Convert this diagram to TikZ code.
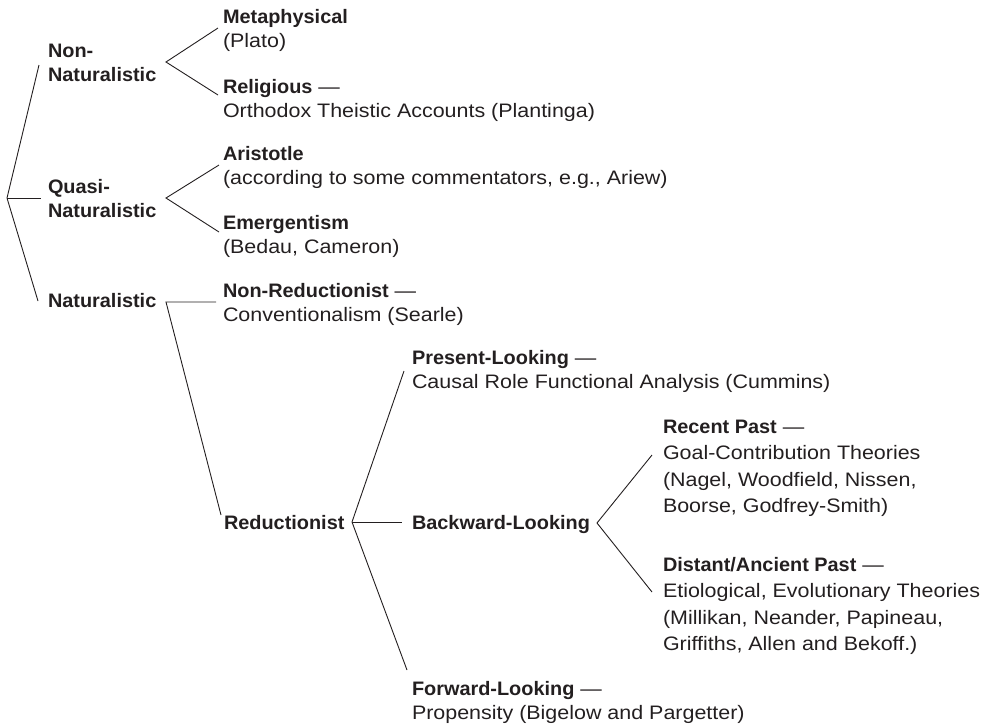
\documentclass[tikz,border=0pt]{standalone}
\usepackage{fontspec}
\newfontfamily\rgfont[FakeStretch=1.1]{Liberation Sans}
\newfontfamily\bdfont[FakeStretch=1.02]{Liberation Sans Bold}
\newcommand{\hd}[1]{{\bdfont #1}}
\definecolor{ink}{HTML}{231F20}
\begin{document}
\begin{tikzpicture}[x=1pt,y=-1pt,
  lbl/.style={inner sep=0pt, outer sep=0pt, anchor=base west, align=left,
    font=\rgfont\fontsize{19.5}{24}\selectfont, text=ink},
  lblwide/.style={lbl, font=\rgfont\fontsize{19.5}{26.5}\selectfont},
  conn/.style={draw=ink, line width=0.9pt}]
\useasboundingbox (0,0) rectangle (985,724);

% labels (anchor = baseline of the last line)
\node[lbl] (nonnat) at (48,81) {\hd{Non-}\\\hd{Naturalistic}};
\node[lbl] (quasi) at (48,217) {\hd{Quasi-}\\\hd{Naturalistic}};
\node[lbl] (nat) at (48,307) {\hd{Naturalistic}};
\node[lbl] (meta) at (223,47) {\hd{Metaphysical}\\(Plato)};
\node[lbl] (relig) at (223,117) {\hd{Religious} —\\Orthodox Theistic Accounts (Plantinga)};
\node[lbl] (arist) at (223,184) {\hd{Aristotle}\\(according to some commentators, e.g., Ariew)};
\node[lbl] (emerg) at (223,253) {\hd{Emergentism}\\(Bedau, Cameron)};
\node[lbl] (nonred) at (223,321) {\hd{Non-Reductionist} —\\Conventionalism (Searle)};
\node[lbl] (red) at (224,529) {\hd{Reductionist}};
\node[lbl] (present) at (412,388) {\hd{Present-Looking} —\\Causal Role Functional Analysis (Cummins)};
\node[lbl] (back) at (412,529) {\hd{Backward-Looking}};
\node[lbl] (forward) at (412,719) {\hd{Forward-Looking} —\\Propensity (Bigelow and Pargetter)};
\node[lblwide] (recent) at (663,512.5) {\hd{Recent Past} —\\Goal-Contribution Theories\\(Nagel, Woodfield, Nissen,\\Boorse, Godfrey-Smith)};
\node[lblwide] (distant) at (663,650.5) {\hd{Distant/Ancient Past} —\\Etiological, Evolutionary Theories\\(Millikan, Neander, Papineau,\\Griffiths, Allen and Bekoff.)};

% connector points
\coordinate (rv) at (7,198);
\coordinate (rA) at (39,65);
\coordinate (rB) at (41,198);
\coordinate (rC) at (38,301);
\coordinate (nnv) at (166,62);
\coordinate (nnA) at (218,28);
\coordinate (nnB) at (218,95);
\coordinate (qv) at (166,198);
\coordinate (qA) at (219,165);
\coordinate (qB) at (219,232);
\coordinate (nv) at (166,302);
\coordinate (nA) at (216,302);
\coordinate (nB) at (221,515);
\coordinate (dv) at (352,522);
\coordinate (dA) at (404,371);
\coordinate (dB) at (402,522);
\coordinate (dC) at (407,670);
\coordinate (bv) at (597,523);
\coordinate (bA) at (652,455);
\coordinate (bB) at (652,592);

% connectors
\draw[conn] (rA) -- (rv) -- (rC);
\draw[conn] (rv) -- (rB);
\draw[conn] (nnA) -- (nnv) -- (nnB);
\draw[conn] (qA) -- (qv) -- (qB);
\draw[conn] (nA) -- (nv) -- (nB);
\draw[conn] (dA) -- (dv) -- (dC);
\draw[conn] (dv) -- (dB);
\draw[conn] (bA) -- (bv) -- (bB);
\end{tikzpicture}
\end{document}
